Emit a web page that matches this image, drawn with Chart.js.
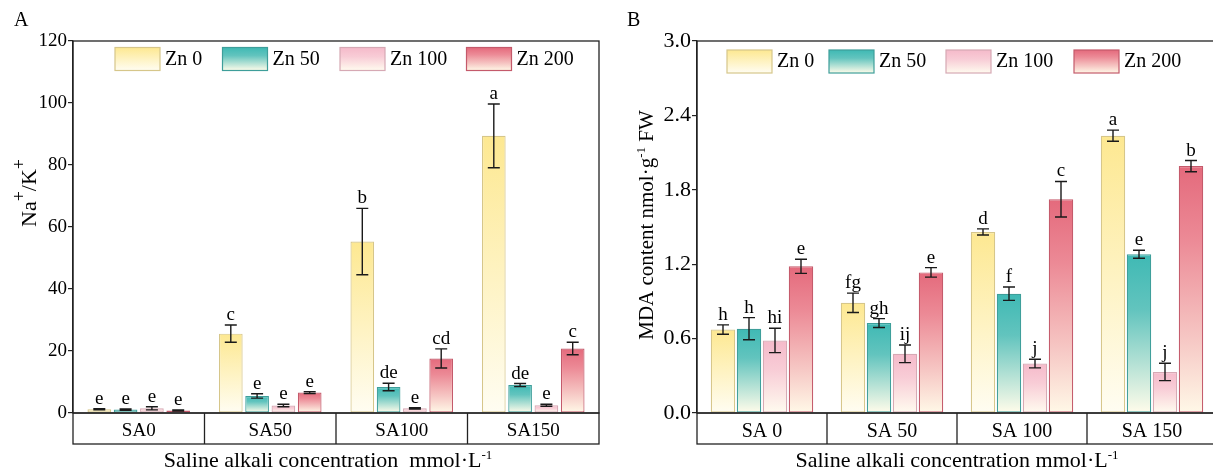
<!DOCTYPE html>
<html>
<head>
<meta charset="utf-8">
<script src="https://cdn.jsdelivr.net/npm/chart.js@4.4.1/dist/chart.umd.min.js"></script>
<style>
  html, body { margin: 0; padding: 0; background: #fff; overflow: hidden; width: 1213px; height: 471px; }
  #wrapA { position: absolute; left: 0; top: 0; }
  #wrapB { position: absolute; left: 610px; top: 0; }
</style>
</head>
<body>
<div id="wrapA"><canvas id="chartA" width="610" height="471"></canvas></div>
<div id="wrapB"><canvas id="chartB" width="620" height="471"></canvas></div>
<script>
const seriesNames = ['Zn 0', 'Zn 50', 'Zn 100', 'Zn 200'];
const categoriesA = ['SA0', 'SA50', 'SA100', 'SA150'];
const categoriesB = ['SA 0', 'SA 50', 'SA 100', 'SA 150'];
const ticksA = [0, 20, 40, 60, 80, 100, 120];
const ticksB = [0, 0.6, 1.2, 1.8, 2.4, 3.0];

// Na+/K+ : one row per Zn level, one value per SA level
const naKMean = [
  [1.2, 25.6, 55.3, 89.4],
  [1.1, 5.5, 8.4, 9.0],
  [1.5, 2.4, 1.5, 2.5],
  [0.8, 6.6, 17.6, 20.8]
];
const naKErr = [
  [0.2, 2.8, 10.7, 10.3],
  [0.2, 0.7, 1.2, 0.5],
  [0.5, 0.4, 0.2, 0.3],
  [0.15, 0.3, 3.1, 2.0]
];
const naKLetters = [
  ['e', 'c', 'b', 'a'],
  ['e', 'e', 'de', 'de'],
  ['e', 'e', 'e', 'e'],
  ['e', 'e', 'cd', 'c']
];

// MDA content
const mdaMean = [
  [0.673, 0.889, 1.46, 2.236],
  [0.68, 0.725, 0.962, 1.28],
  [0.585, 0.477, 0.399, 0.331],
  [1.183, 1.134, 1.724, 1.991]
];
const mdaErr = [
  [0.038, 0.078, 0.025, 0.045],
  [0.089, 0.036, 0.054, 0.032],
  [0.098, 0.071, 0.035, 0.07],
  [0.057, 0.038, 0.143, 0.045]
];
const mdaLetters = [
  ['h', 'fg', 'd', 'a'],
  ['h', 'gh', 'f', 'e'],
  ['hi', 'ij', 'j', 'j'],
  ['e', 'e', 'c', 'b']
];

const FONT = "'Liberation Serif', 'Times New Roman', serif";

// gradient fills per Zn level (top -> bottom of each bar)
const fills = [
  { stops: [[0, '#FDE891'], [1, '#FFFDF2']], border: '#D6C68A' },
  { stops: [[0, '#3FB9B4'], [0.35, '#62C4BE'], [1, '#FFFCEA']], border: '#3E9E9A' },
  { stops: [[0, '#F5BACA'], [0.4, '#F8CCD6'], [1, '#FFFBEF']], border: '#D6A9B4' },
  { stops: [[0, '#E46A7C'], [0.3, '#EC8A96'], [0.7, '#F6C7C4'], [1, '#FFF8E7']], border: '#C45A6B' }
];

function grad(ctx, y0, y1, i) {
  const g = ctx.createLinearGradient(0, y0, 0, y1);
  fills[i].stops.forEach(s => g.addColorStop(s[0], s[1]));
  return g;
}

function drawRich(ctx, parts, cx, baseY) {
  let total = 0;
  parts.forEach(p => {
    ctx.font = p.size + 'px ' + FONT;
    p.w = ctx.measureText(p.t).width;
    total += p.w;
  });
  let x = cx - total / 2;
  ctx.textAlign = 'left';
  ctx.textBaseline = 'alphabetic';
  ctx.fillStyle = '#000';
  parts.forEach(p => {
    ctx.font = p.size + 'px ' + FONT;
    ctx.fillText(p.t, x, baseY - (p.up || 0));
    x += p.w;
  });
}

const panelPlugin = {
  id: 'panelPlugin',
  beforeDatasetsDraw(chart) {
    const ctx = chart.ctx;
    chart.data.datasets.forEach((ds, i) => {
      chart.getDatasetMeta(i).data.forEach(el => {
        el.options.backgroundColor = grad(ctx, el.y, el.base, i);
      });
    });
  },
  afterDatasetsDraw(chart) {
    const ctx = chart.ctx;
    const p = chart.options.plugins.panelPlugin;
    const y = chart.scales.y;
    ctx.save();
    ctx.strokeStyle = '#1a1a1a';
    ctx.lineWidth = 1.4;
    chart.data.datasets.forEach((ds, i) => {
      chart.getDatasetMeta(i).data.forEach((el, j) => {
        const v = p.means[i][j], e = p.errs[i][j];
        const yt = y.getPixelForValue(v + e);
        const yb = y.getPixelForValue(v - e);
        ctx.beginPath();
        ctx.moveTo(el.x, yt); ctx.lineTo(el.x, yb);
        ctx.moveTo(el.x - 6, yt); ctx.lineTo(el.x + 6, yt);
        ctx.moveTo(el.x - 6, yb); ctx.lineTo(el.x + 6, yb);
        ctx.stroke();
        ctx.fillStyle = '#000';
        ctx.font = '19px ' + FONT;
        ctx.textAlign = 'center';
        ctx.textBaseline = 'alphabetic';
        ctx.fillText(p.letters[i][j], el.x, yt - 5);
      });
    });
    ctx.restore();
  },
  afterDraw(chart) {
    const ctx = chart.ctx;
    const p = chart.options.plugins.panelPlugin;
    const a = chart.chartArea;
    const x = chart.scales.x;
    ctx.save();
    ctx.strokeStyle = '#222';
    ctx.lineWidth = 1.3;
    // plot frame
    ctx.strokeRect(a.left, a.top, a.right - a.left, a.bottom - a.top);
    // category box under the axis
    ctx.strokeRect(a.left, a.bottom, a.right - a.left, 31);
    ctx.beginPath();
    for (let i = 0; i < p.labels.length - 1; i++) {
      const xd = (x.getPixelForValue(i) + x.getPixelForValue(i + 1)) / 2;
      ctx.moveTo(xd, a.bottom); ctx.lineTo(xd, a.bottom + 31);
    }
    ctx.stroke();
    // legend
    seriesNames.forEach((name, i) => {
      const bx = p.legendX[i], by = p.legendY;
      ctx.fillStyle = grad(ctx, by, by + 23, i);
      ctx.fillRect(bx, by, 45, 23);
      ctx.strokeStyle = fills[i].border;
      ctx.lineWidth = 1.2;
      ctx.strokeRect(bx, by, 45, 23);
      ctx.fillStyle = '#000';
      ctx.font = '20px ' + FONT;
      ctx.textAlign = 'left';
      ctx.textBaseline = 'middle';
      ctx.fillText(name, bx + 50, by + 12);
    });
    // panel tag
    ctx.font = '20px ' + FONT;
    ctx.textAlign = 'left';
    ctx.textBaseline = 'alphabetic';
    ctx.fillText(p.tag, p.tagX, 26);
    // x title
    drawRich(ctx, p.xTitle.parts, p.xTitle.x, p.xTitle.y);
    // y title, rotated
    ctx.save();
    ctx.translate(p.yTitle.x, p.yTitle.y);
    ctx.rotate(-Math.PI / 2);
    drawRich(ctx, p.yTitle.parts, 0, 0);
    ctx.restore();
    ctx.restore();
  }
};

function makePanel(id, cfg) {
  const datasets = seriesNames.map((name, i) => ({
    label: name,
    data: cfg.means[i],
    backgroundColor: () => fills[i].stops[0][1],
    borderColor: fills[i].border,
    borderWidth: 1.2,
    borderSkipped: false,
    categoryPercentage: 0.8,
    barPercentage: cfg.barPct
  }));
  return new Chart(document.getElementById(id).getContext('2d'), {
    type: 'bar',
    data: { labels: cfg.labels, datasets: datasets },
    options: {
      responsive: false,
      animation: false,
      events: [],
      layout: { padding: { top: 41, right: cfg.padRight, left: 0, bottom: 0 } },
      plugins: {
        legend: { display: false },
        tooltip: { enabled: false },
        panelPlugin: cfg
      },
      scales: {
        x: {
          type: 'category',
          offset: true,
          grid: { display: false, drawTicks: false },
          border: { display: false },
          ticks: { color: '#000', font: { family: FONT, size: cfg.catFont }, padding: 7, maxRotation: 0 },
          afterFit: s => { s.height = 58; }
        },
        y: {
          min: cfg.yTicks[0],
          max: cfg.yTicks[cfg.yTicks.length - 1],
          ticks: {
            stepSize: cfg.yTicks[1] - cfg.yTicks[0],
            color: '#000',
            font: { family: FONT, size: cfg.tickFont },
            padding: 1,
            callback: v => Number(v).toFixed(cfg.decimals)
          },
          grid: { drawOnChartArea: false, drawTicks: true, tickLength: 5, color: '#222', lineWidth: 1.2 },
          border: { display: true, color: '#222', width: 1.3 },
          afterFit: s => { s.width = cfg.yWidth; }
        }
      }
    },
    plugins: [panelPlugin]
  });
}

makePanel('chartA', {
  labels: categoriesA, means: naKMean, errs: naKErr, letters: naKLetters,
  yTicks: ticksA, decimals: 0, tickFont: 19, catFont: 19,
  yWidth: 73, padRight: 11, barPct: 0.9,
  legendX: [115, 222.5, 340, 466.5], legendY: 47.5,
  tag: 'A', tagX: 14,
  xTitle: { x: 328, y: 467, parts: [
    { t: 'Saline alkali concentration  mmol\u00b7L', size: 22 },
    { t: '-1', size: 13, up: 8 }
  ] },
  yTitle: { x: 36, y: 193, parts: [
    { t: 'Na', size: 22 },
    { t: '+', size: 18, up: 11 },
    { t: '/K', size: 22 },
    { t: '+', size: 18, up: 11 }
  ] }
});

makePanel('chartB', {
  labels: categoriesB, means: mdaMean, errs: mdaErr, letters: mdaLetters,
  yTicks: ticksB, decimals: 1, tickFont: 22, catFont: 20,
  yWidth: 87, padRight: 13, barPct: 0.94,
  legendX: [117, 219, 336, 464], legendY: 50,
  tag: 'B', tagX: 17,
  xTitle: { x: 347, y: 467, parts: [
    { t: 'Saline alkali concentration mmol\u00b7L', size: 22 },
    { t: '-1', size: 13, up: 8 }
  ] },
  yTitle: { x: 43, y: 225, parts: [
    { t: 'MDA content nmol\u00b7g', size: 21 },
    { t: '-1', size: 13, up: 8 },
    { t: ' FW', size: 21 }
  ] }
});
</script>
</body>
</html>
